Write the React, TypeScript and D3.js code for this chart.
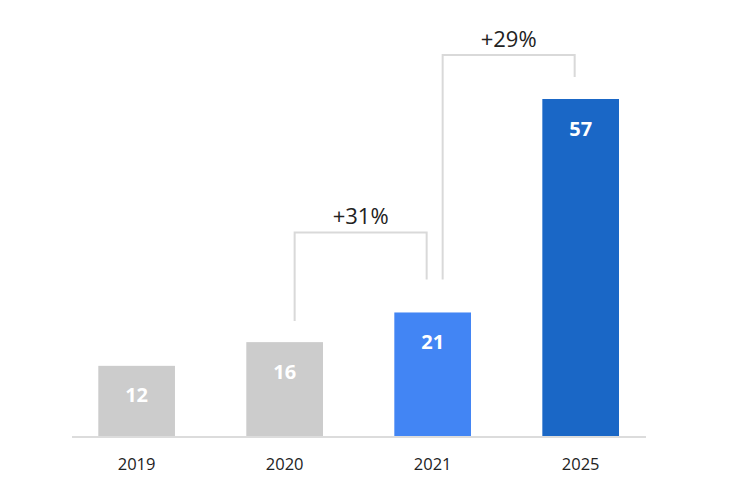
import React from "react";
import * as d3 from "d3";

const categories = ["2019", "2020", "2021", "2025"];
const values = [12, 16, 21, 57];
const barColors = ["#cccccc", "#cccccc", "#4285f4", "#1a67c6"];
const growthLabels = ["+31%", "+29%"];
const growthFrom = ["2020", "2021"];
const growthTo = ["2021", "2025"];

const W = 750;
const H = 494;
const baseY = 437;
const font = "'Open Sans', 'Noto Sans', sans-serif";

export default function App() {
  const x = d3.scaleBand<string>().domain(categories).range([98.3, 619]).paddingInner(0.482).paddingOuter(0);
  const y = d3.scaleLinear().domain([0, 57]).range([baseY, 99]);
  const bw = x.bandwidth();
  const cx = (c: string) => (x(c) as number) + bw / 2;

  const bracketTopOffsets = [80, 44];

  return (
    <div style={{ margin: -8 }}>
      <svg width={W} height={H} style={{ display: "block", background: "#fff" }}>
        {categories.map((c, i) => (
          <g key={c}>
            <rect x={x(c)} y={y(values[i])} width={bw} height={baseY - y(values[i])} fill={barColors[i]} />
            <text
              x={cx(c)}
              y={y(values[i]) + 29}
              textAnchor="middle"
              dominantBaseline="central"
              fill="#ffffff"
              fontFamily={font}
              fontWeight={700}
              fontSize={20}
            >
              {values[i]}
            </text>
            <text
              x={cx(c)}
              y={463}
              textAnchor="middle"
              dominantBaseline="central"
              fill="#222"
              fontFamily={font}
              fontWeight={500}
              fontSize={16.5}
            >
              {c}
            </text>
          </g>
        ))}
        <line x1={72} x2={646} y1={baseY} y2={baseY} stroke="#dcdcdc" strokeWidth={2} />
        {growthLabels.map((lab, i) => {
          const a = growthFrom[i];
          const b = growthTo[i];
          const ia = categories.indexOf(a);
          const ib = categories.indexOf(b);
          const xl = cx(a) + 10;
          const xr = cx(b) - 6;
          const topY = y(values[ib]) - bracketTopOffsets[i];
          const leftBottom = y(values[ia]) - (i === 0 ? 21 : 33);
          const rightBottom = y(values[ib]) - (i === 0 ? 33 : 22);
          const path = `M${xl},${leftBottom}V${topY}H${xr}V${rightBottom}`;
          return (
            <g key={lab}>
              <path d={path} fill="none" stroke="#d9d9d9" strokeWidth={2} />
              <text
                x={(xl + xr) / 2}
                y={topY - 17}
                textAnchor="middle"
                dominantBaseline="central"
                fill="#222"
                fontFamily={font}
                fontWeight={500}
                fontSize={22}
              >
                {lab}
              </text>
            </g>
          );
        })}
      </svg>
    </div>
  );
}
